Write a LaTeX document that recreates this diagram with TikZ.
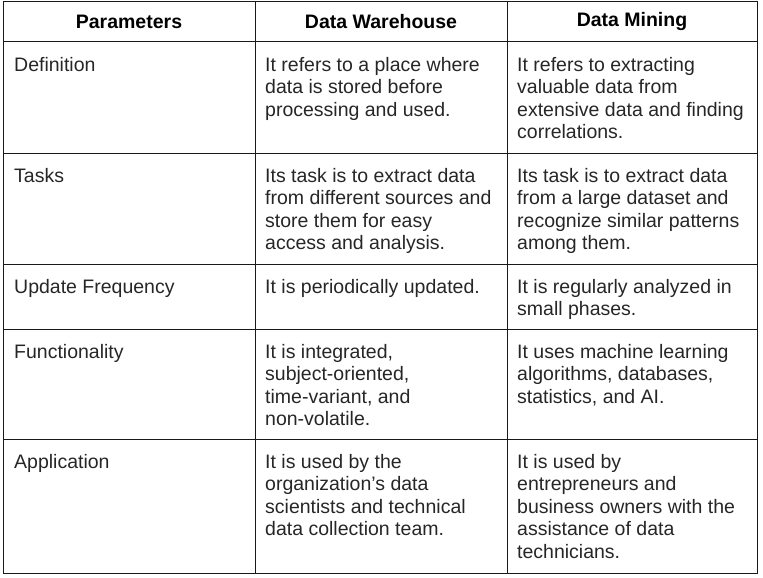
\documentclass[tikz,border=0pt]{standalone}
\usepackage{fontspec}
\setmainfont{Liberation Sans}
\begin{document}
\begin{tikzpicture}[x=1pt,y=-1pt,
  cell/.style={anchor=north west,inner sep=0pt,align=left,font=\fontsize{19.5}{22.5}\selectfont,text=black!85},
  head/.style={anchor=center,inner sep=0pt,font=\fontsize{19.5}{22}\selectfont\bfseries},
  rule/.style={line width=1pt,black!90}]
\useasboundingbox (0,0) rectangle (763,578);
\draw[rule] (3.5,2) rectangle (757,573);
\foreach \y in {42,153,264,329,439} \draw[rule] (3.5,\y) -- (757,\y);
\foreach \x in {255,507} \draw[rule] (\x,2) -- (\x,573);
\node[head] (h1) at (129,22) {Parameters};
\node[head] (h2) at (381,22) {Data Warehouse};
\node[head] (h3) at (632,22) {Data Mining};
\node[cell] (a1) at (14,57) {Definition};
\node[cell] (b1) at (265,57) {It refers to a place where\\data is stored before\\processing and used.};
\node[cell] (c1) at (517,57) {It refers to extracting\\valuable data from\\extensive data and finding\\correlations.};
\node[cell] (a2) at (14,168) {Tasks};
\node[cell] (b2) at (265,168) {Its task is to extract data\\from different sources and\\store them for easy\\access and analysis.};
\node[cell] (c2) at (517,168) {Its task is to extract data\\from a large dataset and\\recognize similar patterns\\among them.};
\node[cell] (a3) at (14,279) {Update Frequency};
\node[cell] (b3) at (265,279) {It is periodically updated.};
\node[cell] (c3) at (517,279) {It is regularly analyzed in\\small phases.};
\node[cell] (a4) at (14,344) {Functionality};
\node[cell] (b4) at (265,344) {It is integrated,\\subject-oriented,\\time-variant, and\\non-volatile.};
\node[cell] (c4) at (517,344) {It uses machine learning\\algorithms, databases,\\statistics, and AI.};
\node[cell] (a5) at (14,454) {Application};
\node[cell] (b5) at (265,454) {It is used by the\\organization{\char"27}s data\\scientists and technical\\data collection team.};
\node[cell] (c5) at (517,454) {It is used by\\entrepreneurs and\\business owners with the\\assistance of data\\technicians.};
\end{tikzpicture}
\end{document}
